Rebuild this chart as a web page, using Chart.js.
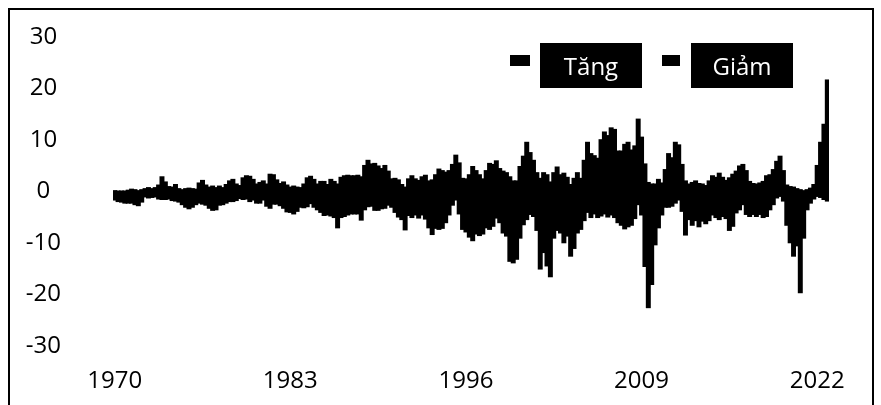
<!DOCTYPE html>
<html>
<head>
<meta charset="utf-8">
<script src="https://cdn.jsdelivr.net/npm/chart.js@4"></script>
<style>
  html, body { margin: 0; padding: 0; background: #fff; }
  #wrap { position: relative; width: 881px; height: 405px; overflow: hidden; font-family: 'Open Sans', sans-serif; }
  #frame { position: absolute; left: 8px; top: 8px; width: 866px; height: 420px; border: 2px solid #000; box-sizing: border-box; }
  .sw { position: absolute; background: #000; height: 11px; top: 55px; }
  .lbl { position: absolute; top: 43px; height: 45px; width: 102px; background: #000; color: #fff;
         font-size: 24px; line-height: 45px; text-align: center; }
</style>
</head>
<body>
<div id="wrap">
  <canvas id="chart" width="881" height="405"></canvas>
  <div id="frame"></div>
  <div class="sw" style="left:510px;width:20px"></div>
  <div class="lbl" style="left:540px">Tăng</div>
  <div class="sw" style="left:662px;width:18px"></div>
  <div class="lbl" style="left:691px">Giảm</div>
</div>
<script>
// quarterly periods 1970Q1 - 2022Q4
const firstYear = 1970;
const lastYear = 2022;
const shownYears = [1970, 1983, 1996, 2009, 2022];

// highest rise in each quarter (Tăng)
const tang = [
  0.1, 0, 0, 0, 0.2, 0.4, 0.3, 0.1, 0.3, 0.5,
  0.7, 0.5, 0.7, 1.2, 2.8, 1.8, 0.9, 0.8, 1.3, 0.5,
  0.3, 0.5, 0.6, 0.5, 0.4, 1.6, 2.1, 1.2, 0.8, 1.0,
  0.7, 1.0, 0.7, 1.3, 2.0, 2.3, 1.4, 1.1, 2.6, 3.0,
  2.9, 2.3, 1.4, 1.7, 2.0, 1.4, 3.3, 3.2, 2.2, 1.5,
  1.8, 1.2, 0.8, 1.0, 0.8, 0.7, 1.4, 2.6, 2.9, 2.3,
  1.4, 1.9, 1.9, 1.3, 2.3, 1.9, 1.4, 2.7, 3.0, 3.1,
  3.0, 3.0, 3.1, 2.8, 5.0, 6.0, 5.3, 5.4, 4.9, 4.4,
  5.0, 3.9, 2.4, 2.5, 2.2, 1.3, 0.8, 2.4, 3.0, 2.4,
  2.1, 2.8, 3.1, 2.0, 2.2, 3.2, 4.3, 4.0, 3.7, 4.0,
  5.2, 7.0, 5.5, 2.5, 2.4, 3.2, 4.8, 4.0, 3.2, 2.4,
  4.0, 5.4, 5.2, 5.9, 4.4, 3.9, 3.6, 2.8, 2.0, 2.0,
  4.8, 6.8, 9.5, 7.5, 6.0, 3.6, 2.5, 3.6, 3.2, 1.8,
  3.6, 4.7, 3.2, 3.5, 2.7, 1.3, 2.5, 3.6, 2.5, 6.0,
  9.5, 7.3, 6.9, 6.4, 10.0, 11.5, 10.8, 12.3, 12.0, 7.8,
  7.8, 9.1, 9.5, 8.0, 8.8, 14.0, 10.5, 5.3, 1.7, 1.4,
  1.4, 2.3, 1.6, 4.2, 7.3, 6.5, 9.5, 9.0, 5.2, 2.0,
  1.4, 1.7, 2.0, 1.5, 1.4, 1.1, 2.0, 3.0, 2.7, 3.5,
  2.7, 2.1, 2.6, 3.3, 3.9, 4.9, 5.2, 4.0, 1.9, 1.5,
  1.4, 1.6, 1.9, 3.0, 3.2, 4.2, 5.8, 6.8, 4.0, 1.2,
  0.9, 0.8, 0.5, 0.3, 0.1, 0.3, 0.6, 1.3, 5.0, 9.5,
  13.0, 21.6
];

// deepest fall in each quarter (Giảm)
const giam = [
  -1.6, -1.9, -2.0, -2.2, -2.2, -2.2, -2.5, -2.7, -2.0, -1.0,
  -1.2, -1.1, -1.0, -1.4, -1.5, -1.5, -1.4, -1.7, -1.8, -2.0,
  -2.5, -3.0, -3.3, -3.0, -2.5, -2.2, -2.4, -2.6, -3.2, -3.6,
  -3.5, -2.6, -2.5, -2.2, -1.9, -1.9, -1.7, -1.3, -1.5, -1.4,
  -1.9, -1.6, -2.2, -2.2, -1.6, -2.8, -3.2, -2.4, -2.4, -2.7,
  -3.2, -3.9, -4.0, -4.3, -3.8, -3.0, -3.1, -2.9, -2.3, -3.0,
  -3.5, -4.0, -4.6, -4.5, -4.7, -5.0, -7.0, -5.0, -4.8, -4.5,
  -4.3, -4.3, -4.3, -5.5, -3.5, -2.9, -2.8, -3.6, -3.6, -3.3,
  -3.2, -2.6, -3.0, -4.0, -4.9, -5.4, -7.4, -4.6, -5.0, -4.5,
  -5.1, -4.5, -5.3, -7.0, -8.3, -7.1, -7.3, -7.1, -6.0, -4.5,
  -2.6, -1.6, -4.3, -7.3, -7.8, -8.8, -9.5, -8.2, -8.5, -8.2,
  -7.0, -7.3, -6.7, -5.1, -6.0, -8.0, -8.6, -13.5, -13.8, -13.1,
  -9.0, -6.4, -5.4, -4.4, -4.8, -7.5, -15.0, -11.8, -14.4, -16.5,
  -9.0, -7.5, -8.0, -9.9, -8.6, -12.5, -11.0, -8.0, -7.3, -5.6,
  -4.0, -5.0, -4.3, -5.0, -4.7, -4.3, -4.9, -4.5, -5.0, -6.0,
  -6.5, -7.2, -6.8, -6.5, -5.2, -2.5, -4.5, -14.5, -22.5, -18.0,
  -10.3, -7.0, -4.5, -3.0, -3.0, -2.8, -2.2, -1.6, -3.8, -8.4,
  -5.4, -6.5, -5.6, -6.8, -5.7, -6.2, -5.6, -4.5, -5.0, -5.4,
  -4.8, -5.2, -7.5, -6.7, -4.1, -3.5, -2.5, -4.4, -4.8, -4.4,
  -4.8, -4.4, -5.0, -4.8, -3.5, -2.5, -1.2, -0.9, -1.8, -6.5,
  -9.9, -12.5, -10.5, -19.6, -9.0, -3.5, -2.2, -1.4, -0.9, -1.1,
  -1.5, -1.8
];

const yTicks = [-30, -20, -10, 0, 10, 20, 30];

const labels = [];
for (let y = firstYear; y <= lastYear; y++) {
  for (let q = 1; q <= 4; q++) labels.push(y + 'Q' + q);
}

const font = { family: 'Open Sans', size: 24 };

new Chart(document.getElementById('chart'), {
  type: 'bar',
  data: {
    labels: labels,
    datasets: [
      { label: 'Tăng', data: tang, backgroundColor: '#000', borderWidth: 0, inflateAmount: 0.8, barPercentage: 1, categoryPercentage: 1 },
      { label: 'Giảm', data: giam, backgroundColor: '#000', borderWidth: 0, inflateAmount: 0.8, barPercentage: 1, categoryPercentage: 1 }
    ]
  },
  options: {
    responsive: false,
    animation: false,
    layout: { padding: { top: 37, right: 52, left: 0, bottom: 0 } },
    plugins: { legend: { display: false }, tooltip: { enabled: false } },
    scales: {
      x: {
        stacked: true,
        grid: { display: false, drawTicks: false },
        border: { display: false },
        afterFit: function(s) { s.height = 59; },
        ticks: {
          autoSkip: false, maxRotation: 0, padding: 21, color: '#000', font: font,
          callback: function(v, i) {
            const l = labels[i];
            if (l.endsWith('Q1') && shownYears.includes(parseInt(l))) return l.slice(0, 4);
            return '';
          }
        }
      },
      y: {
        stacked: true,
        min: -30, max: 30,
        grid: { display: false, drawTicks: false },
        border: { display: false },
        afterFit: function(s) { s.width = 113; s.paddingTop = 14; s.paddingBottom = 14; },
        afterBuildTicks: function(s) { s.ticks = yTicks.map(v => ({ value: v })); },
        ticks: { crossAlign: 'center', padding: 52, color: '#000', font: font }
      }
    }
  }
});
</script>
</body>
</html>
